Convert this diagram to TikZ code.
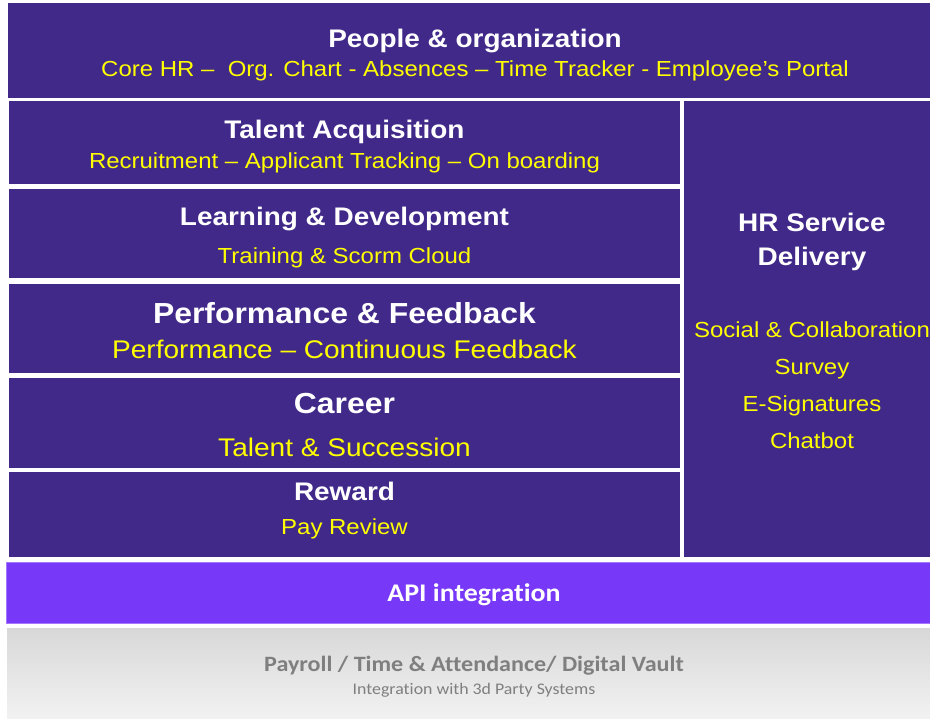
\documentclass[tikz,border=0pt]{standalone}
\usepackage{fontspec}
\newfontfamily\arialf[FakeStretch=1.1]{Liberation Sans}
\newfontfamily\calibrif[FakeStretch=1.1,RawFeature={-liga}]{Carlito}
\definecolor{deep}{RGB}{65,41,138}
\definecolor{apiv}{RGB}{120,56,248}
\definecolor{apiedge}{RGB}{165,120,255}
\definecolor{yel}{RGB}{255,255,0}
\definecolor{gtop}{RGB}{216,216,216}
\definecolor{gbot}{RGB}{242,242,242}
\definecolor{gtext}{RGB}{127,127,127}
\begin{document}
\begin{tikzpicture}[x=1pt,y=-1pt,
  panel/.style={fill=deep, draw=none, inner sep=0pt, anchor=center},
  ttl/.style={anchor=base, inner sep=0pt, text=white, font=\arialf\bfseries\fontsize{25.4}{30}\selectfont},
  bigttl/.style={anchor=base, inner sep=0pt, text=white, font=\arialf\bfseries\fontsize{29}{34}\selectfont},
  sub/.style={anchor=base, inner sep=0pt, text=yel, font=\arialf\fontsize{21.8}{26}\selectfont},
  bigsub/.style={anchor=base, inner sep=0pt, text=yel, font=\arialf\fontsize{25.5}{30}\selectfont}
]
\useasboundingbox[fill=white] (0,0) rectangle (930,719);
% panels
\node[panel, minimum width=922pt, minimum height=95pt] (top) at (469,50.5) {};
\node[panel, minimum width=671pt, minimum height=83pt] (ta) at (344.5,142.5) {};
\node[panel, minimum width=671pt, minimum height=89pt] (ld) at (344.5,233.5) {};
\node[panel, minimum width=671pt, minimum height=89pt] (pf) at (344.5,328.5) {};
\node[panel, minimum width=671pt, minimum height=90pt] (ca) at (344.5,423) {};
\node[panel, minimum width=671pt, minimum height=85pt] (rw) at (344.5,514.5) {};
\node[panel, minimum width=246pt, minimum height=456pt] (hr) at (807,329) {};
\node[fill=apiv, draw=apiedge, line width=0.8pt, inner sep=0pt, minimum width=924pt, minimum height=61pt] (api) at (468,592.5) {};
\node[top color=gtop, bottom color=gbot, draw=none, inner sep=0pt, minimum width=923pt, minimum height=91pt] (base) at (468.5,673.5) {};
% texts
\node[ttl] (topt) at (475,47.5) {People \& organization};
\node[sub] (tops) at (475,76.5) {Core HR –\ \ Org. Chart - Absences – Time Tracker - Employee’s Portal};
\node[ttl] (tat) at (344.5,138.5) {Talent Acquisition};
\node[sub] (tas) at (344.5,168.5) {Recruitment – Applicant Tracking – On boarding};
\node[ttl] (ldt) at (344.5,225.5) {Learning \& Development};
\node[sub] (lds) at (344.5,263.5) {Training \& Scorm Cloud};
\node[bigttl] (pft) at (344.5,323.5) {Performance \& Feedback};
\node[bigsub] (pfs) at (344.5,358.5) {Performance – Continuous Feedback};
\node[bigttl] (cat) at (344.5,413.5) {Career};
\node[bigsub] (cas) at (344.5,456.5) {Talent \& Succession};
\node[ttl] (rwt) at (344.5,500.5) {Reward};
\node[sub] (rws) at (344.5,534.5) {Pay Review};
\node[ttl] (hrt1) at (812,231.5) {HR Service};
\node[ttl] (hrt2) at (812,265.5) {Delivery};
\node[sub] (hrs1) at (812,337.5) {Social \& Collaboration};
\node[sub] (hrs2) at (812,374.5) {Survey};
\node[sub] (hrs3) at (812,411.5) {E-Signatures};
\node[sub] (hrs4) at (812,448.5) {Chatbot};
\node[anchor=base, inner sep=0pt, text=white, font=\calibrif\bfseries\fontsize{25.4}{30}\selectfont] (apit) at (474,601) {API integration};
\node[anchor=base, inner sep=0pt, text=gtext, font=\calibrif\bfseries\fontsize{21.9}{26}\selectfont] (bt) at (474,671.5) {Payroll / Time \& Attendance/ Digital Vault};
\node[anchor=base, inner sep=0pt, text=gtext, font=\calibrif\fontsize{16.2}{20}\selectfont] (bs) at (474,694.5) {Integration with 3d Party Systems};
\end{tikzpicture}
\end{document}
